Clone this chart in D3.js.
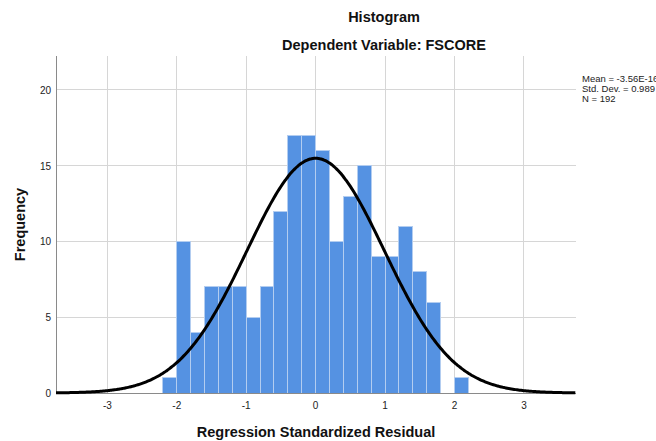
<!DOCTYPE html>
<html>
<head>
<meta charset="utf-8">
<script src="https://cdn.jsdelivr.net/npm/d3@7"></script>
<style>
  html, body { margin: 0; padding: 0; background: #fff; overflow: hidden; }
  svg { display: block; font-family: "Liberation Sans", Arial, sans-serif; }
</style>
</head>
<body>
<svg id="chart" width="656" height="441"></svg>
<script>
// ---- data ----
const binStarts = [-2.2, -2.0, -1.8, -1.6, -1.4, -1.2, -1.0, -0.8, -0.6, -0.4, -0.2,
                   0.0, 0.2, 0.4, 0.6, 0.8, 1.0, 1.2, 1.4, 1.6, 1.8, 2.0];
const binWidth = 0.2;
const frequencies = [1, 10, 4, 7, 7, 7, 5, 7, 12, 17, 17,
                     16, 10, 13, 15, 9, 9, 11, 8, 6, 0, 1];
const xTicks = [-3, -2, -1, 0, 1, 2, 3];
const yTicks = [0, 5, 10, 15, 20];
const meanVal = -3.56e-16;
const sdVal = 0.989;
const nVal = 192;
const legendLines = ["Mean = -3.56E-16", "Std. Dev. = 0.989", "N = 192"];
const titleLines = ["Histogram", "Dependent Variable: FSCORE"];
const xTitle = "Regression Standardized Residual";
const yTitle = "Frequency";

// ---- layout ----
const L = 56, R = 576, T = 56, B = 393;
const svg = d3.select("#chart");

const x = d3.scaleLinear().domain([-3.74, 3.75]).range([L, R]);
const y = d3.scaleLinear().domain([0, 22.24]).range([B, T]);

// gridlines
svg.append("g").selectAll("line.gx").data(xTicks).join("line")
  .attr("x1", d => x(d)).attr("x2", d => x(d))
  .attr("y1", T).attr("y2", B)
  .attr("stroke", "#d6d6d6").attr("stroke-width", 1).attr("shape-rendering", "crispEdges");
svg.append("g").selectAll("line.gy").data(yTicks.filter(d => d > 0)).join("line")
  .attr("x1", L).attr("x2", R)
  .attr("y1", d => y(d)).attr("y2", d => y(d))
  .attr("stroke", "#d6d6d6").attr("stroke-width", 1).attr("shape-rendering", "crispEdges");

// bars
const bins = binStarts.map((s, i) => ({ x0: s, x1: s + binWidth, n: frequencies[i] }));
svg.append("g").selectAll("rect").data(bins.filter(d => d.n > 0)).join("rect")
  .attr("x", d => x(d.x0))
  .attr("width", d => x(d.x1) - x(d.x0))
  .attr("y", d => y(d.n))
  .attr("height", d => y(0) - y(d.n))
  .attr("fill", "#5592e2")
  .attr("stroke", "#b3cdf0")
  .attr("stroke-width", 1)
  .attr("shape-rendering", "crispEdges");

// axes lines
svg.append("line").attr("x1", L).attr("x2", L).attr("y1", T).attr("y2", B)
  .attr("stroke", "#8a8a8a").attr("stroke-width", 1).attr("shape-rendering", "crispEdges");
svg.append("line").attr("x1", L).attr("x2", R).attr("y1", B).attr("y2", B)
  .attr("stroke", "#8a8a8a").attr("stroke-width", 1).attr("shape-rendering", "crispEdges");

// normal curve
const scaleN = nVal * binWidth;
const pdf = v => scaleN / (sdVal * Math.sqrt(2 * Math.PI)) * Math.exp(-0.5 * ((v - meanVal) / sdVal) ** 2);
const curvePts = d3.range(x.domain()[0], x.domain()[1] + 0.001, 0.02).map(v => [v, pdf(v)]);
svg.append("path")
  .datum(curvePts)
  .attr("d", d3.line().x(d => x(d[0])).y(d => y(d[1])).curve(d3.curveBasis))
  .attr("fill", "none").attr("stroke", "#000").attr("stroke-width", 3)
  .attr("stroke-linejoin", "round");

// tick labels
svg.append("g").selectAll("text").data(yTicks).join("text")
  .attr("x", 51).attr("y", d => y(d) + 4)
  .attr("text-anchor", "end").attr("font-size", 10).attr("fill", "#222")
  .text(d => d);
svg.append("g").selectAll("text").data(xTicks).join("text")
  .attr("x", d => x(d)).attr("y", 409)
  .attr("text-anchor", "middle").attr("font-size", 10).attr("fill", "#222")
  .text(d => d);

// titles
svg.append("text").attr("x", 384).attr("y", 22).attr("text-anchor", "middle")
  .attr("font-size", 14.5).attr("font-weight", "bold").attr("fill", "#111").text(titleLines[0]);
svg.append("text").attr("x", 384).attr("y", 50).attr("text-anchor", "middle")
  .attr("font-size", 14.5).attr("font-weight", "bold").attr("fill", "#111").text(titleLines[1]);

svg.append("text").attr("x", (L + R) / 2).attr("y", 437).attr("text-anchor", "middle")
  .attr("font-size", 14.5).attr("font-weight", "bold").attr("fill", "#111").text(xTitle);
svg.append("text").attr("transform", `translate(25,${(T + B) / 2}) rotate(-90)`)
  .attr("text-anchor", "middle")
  .attr("font-size", 14.5).attr("font-weight", "bold").attr("fill", "#111").text(yTitle);

// legend (clipped at the right edge, as in the reference)
svg.append("g").selectAll("text").data(legendLines).join("text")
  .attr("x", 582).attr("y", (d, i) => 82 + i * 10)
  .attr("font-size", 9.5).attr("fill", "#222")
  .text(d => d);
</script>
</body>
</html>
